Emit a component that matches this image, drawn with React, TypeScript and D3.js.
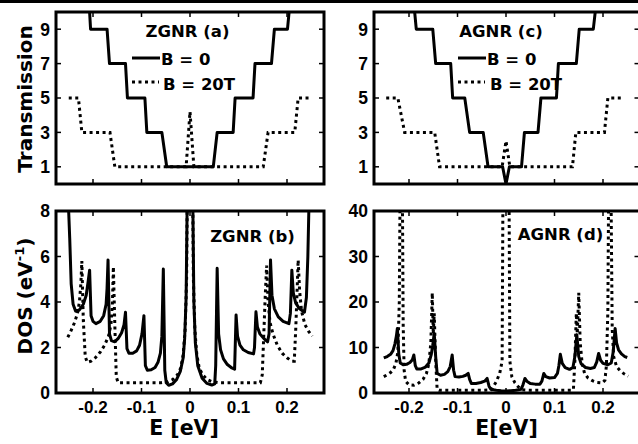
import React, { useEffect, useRef } from "react";
import * as d3 from "d3";

type Pt = [number, number];

// transmission, ZGNR (a)
const transZgnrB0: Pt[] = [
  [-0.208, 10.5], [-0.205, 9], [-0.171, 9], [-0.166, 7], [-0.133, 7], [-0.129, 5],
  [-0.093, 5], [-0.089, 3], [-0.058, 3], [-0.048, 1], [0.048, 1], [0.056, 3],
  [0.089, 3], [0.093, 5], [0.13, 5], [0.134, 7], [0.168, 7], [0.174, 9],
  [0.201, 9], [0.206, 10.5],
];
const transZgnrB20: Pt[] = [
  [-0.25, 5], [-0.23, 5], [-0.223, 3], [-0.165, 3], [-0.155, 1], [-0.008, 1],
  [0, 4.2], [0.008, 1], [0.151, 1], [0.161, 3], [0.216, 3], [0.223, 5], [0.248, 5],
];

// transmission, AGNR (c)
const transAgnrB0: Pt[] = [
  [-0.19, 10.5], [-0.185, 9], [-0.151, 9], [-0.145, 7], [-0.114, 7], [-0.11, 5],
  [-0.085, 5], [-0.075, 3], [-0.047, 3], [-0.037, 1], [-0.007, 1], [0, 0],
  [0.007, 1], [0.032, 1], [0.038, 3], [0.066, 3], [0.072, 5], [0.104, 5],
  [0.108, 7], [0.145, 7], [0.151, 9], [0.18, 9], [0.186, 10.5],
];
const transAgnrB20: Pt[] = [
  [-0.247, 5], [-0.223, 5], [-0.209, 3], [-0.147, 3], [-0.137, 1], [-0.008, 1],
  [0, 2.5], [0.008, 1], [0.137, 1], [0.144, 3], [0.203, 3], [0.21, 5], [0.241, 5],
];

// DOS, ZGNR (b)
const dosZgnrB0: Pt[] = [
  [-0.252, 9], [-0.248, 6.8], [-0.245, 4.8], [-0.241, 3.9], [-0.236, 3.6], [-0.228, 3.65],
  [-0.22, 3.9], [-0.214, 4.3], [-0.21, 4.9], [-0.207, 5.4], [-0.204, 3.4], [-0.2, 3.15],
  [-0.194, 3.05], [-0.185, 3.15], [-0.178, 3.4], [-0.173, 3.9], [-0.171, 4.6], [-0.169, 5.85],
  [-0.166, 2.6], [-0.162, 2.3], [-0.155, 2.25], [-0.148, 2.4], [-0.141, 2.65], [-0.136, 3.0],
  [-0.133, 3.55], [-0.13, 1.95], [-0.126, 1.75], [-0.118, 1.75], [-0.11, 1.85], [-0.104, 2.1],
  [-0.099, 2.6], [-0.095, 3.4], [-0.092, 1.2], [-0.088, 1.0], [-0.08, 1.02], [-0.072, 1.12],
  [-0.066, 1.35], [-0.061, 1.75], [-0.058, 2.5], [-0.055, 5.45], [-0.052, 1.0], [-0.049, 0.45],
  [-0.044, 0.34], [-0.036, 0.4], [-0.028, 0.58], [-0.02, 0.95], [-0.014, 1.55], [-0.011, 2.4],
  [-0.008, 4.2], [-0.0055, 9],
  [0.0055, 9], [0.008, 4], [0.011, 2.2], [0.016, 1.2], [0.025, 0.65], [0.035, 0.42],
  [0.045, 0.35], [0.051, 0.4], [0.053, 1.2], [0.056, 5.48], [0.059, 2.6], [0.063, 1.9],
  [0.069, 1.5], [0.077, 1.25], [0.085, 1.12], [0.092, 1.05], [0.095, 3.43], [0.098, 2.5],
  [0.103, 2.1], [0.11, 1.9], [0.12, 1.78], [0.131, 1.72], [0.133, 2.0], [0.136, 3.57],
  [0.139, 2.9], [0.144, 2.6], [0.152, 2.4], [0.16, 2.25], [0.163, 2.6], [0.166, 5.85],
  [0.169, 4.3], [0.174, 3.7], [0.182, 3.35], [0.192, 3.15], [0.204, 3.05], [0.207, 3.5],
  [0.21, 5.4], [0.213, 4.4], [0.218, 3.95], [0.226, 3.7], [0.236, 3.55], [0.24, 4.2],
  [0.243, 6], [0.246, 9],
];
const dosZgnrB20: Pt[] = [
  [-0.252, 2.45], [-0.245, 2.75], [-0.238, 3.1], [-0.232, 3.5], [-0.228, 4.0], [-0.225, 4.8],
  [-0.223, 5.8], [-0.22, 3.2], [-0.216, 1.6], [-0.212, 1.35], [-0.204, 1.4], [-0.195, 1.55],
  [-0.185, 1.8], [-0.176, 2.1], [-0.168, 2.5], [-0.163, 3.0], [-0.16, 3.9], [-0.158, 5.55],
  [-0.155, 3.0], [-0.152, 0.7], [-0.148, 0.45], [-0.12, 0.45], [-0.09, 0.45], [-0.06, 0.45],
  [-0.045, 0.5], [-0.035, 0.6], [-0.026, 0.8], [-0.019, 1.1], [-0.014, 1.7], [-0.01, 2.8],
  [-0.007, 5], [-0.0055, 9], [0.0055, 9], [0.007, 5], [0.01, 2.8], [0.014, 1.7],
  [0.019, 1.1], [0.026, 0.8], [0.035, 0.6], [0.045, 0.5], [0.06, 0.45], [0.09, 0.45],
  [0.12, 0.45], [0.145, 0.45], [0.149, 0.8], [0.152, 2.5], [0.155, 4.2], [0.158, 5.6],
  [0.161, 4.0], [0.165, 3.1], [0.171, 2.6], [0.18, 2.1], [0.19, 1.75], [0.2, 1.55],
  [0.21, 1.4], [0.215, 1.4], [0.218, 2.8], [0.221, 4.6], [0.223, 5.85], [0.226, 4.5],
  [0.23, 3.6], [0.237, 3.0], [0.245, 2.7], [0.252, 2.5],
];

// DOS, AGNR (d)
const dosAgnrB0: Pt[] = [
  [-0.252, 7.7], [-0.245, 8.0], [-0.238, 8.5], [-0.233, 9.3], [-0.229, 10.8], [-0.226, 12.5],
  [-0.224, 14.2], [-0.221, 8.5], [-0.218, 6.6], [-0.212, 6.2], [-0.205, 6.3], [-0.198, 6.7],
  [-0.193, 7.3], [-0.19, 8.35], [-0.187, 6], [-0.184, 5.3], [-0.175, 5.3], [-0.166, 5.7],
  [-0.159, 6.6], [-0.154, 8.5], [-0.151, 10.5], [-0.148, 13.1], [-0.145, 8], [-0.142, 4.3],
  [-0.135, 3.9], [-0.127, 4.1], [-0.12, 4.7], [-0.115, 5.8], [-0.111, 8.35], [-0.108, 5],
  [-0.105, 3.6], [-0.097, 3.5], [-0.089, 3.65], [-0.083, 3.9], [-0.078, 4.3], [-0.075, 3.0],
  [-0.0715, 2.1], [-0.062, 2.1], [-0.052, 2.3], [-0.044, 2.6], [-0.039, 3.2], [-0.035, 1.5],
  [-0.031, 0.8], [-0.02, 0.6], [-0.01, 0.5], [0, 0.45], [0.01, 0.5], [0.02, 0.6],
  [0.031, 0.8], [0.035, 1.8], [0.039, 3.2], [0.043, 2.6], [0.05, 2.1], [0.06, 1.95],
  [0.07, 1.95], [0.074, 2.6], [0.078, 4.3], [0.082, 3.6], [0.09, 3.3], [0.1, 3.4],
  [0.106, 4.3], [0.109, 6], [0.112, 8.5], [0.116, 6.5], [0.122, 5.6], [0.131, 5.2],
  [0.138, 5.6], [0.142, 8], [0.146, 12.8], [0.15, 8], [0.155, 6.4], [0.164, 5.6],
  [0.174, 5.4], [0.182, 5.6], [0.187, 6.8], [0.191, 8.7], [0.195, 7.2], [0.2, 6.5],
  [0.21, 6.2], [0.217, 6.6], [0.221, 9], [0.225, 14.2], [0.228, 11], [0.232, 9.5],
  [0.238, 8.6], [0.245, 8.0], [0.25, 7.8],
];
const dosAgnrB20: Pt[] = [
  [-0.252, 3.6], [-0.245, 4.0], [-0.238, 4.5], [-0.232, 5.2], [-0.227, 6.5], [-0.223, 9],
  [-0.22, 20], [-0.218, 50], [-0.214, 50], [-0.212, 15], [-0.21, 5], [-0.207, 2.6],
  [-0.2, 1.8], [-0.19, 1.7], [-0.18, 2.2], [-0.171, 3.0], [-0.164, 4.3], [-0.159, 6.5],
  [-0.155, 11], [-0.152, 22], [-0.15, 13], [-0.148, 17.5], [-0.145, 7], [-0.142, 0.8],
  [-0.138, 0.6], [-0.1, 0.6], [-0.05, 0.6], [-0.03, 0.7], [-0.02, 2.5], [-0.013, 4.3],
  [-0.008, 7], [-0.006, 50], [0.006, 50], [0.008, 7], [0.012, 3.6], [0.018, 2.3],
  [0.025, 1.4], [0.033, 0.7], [0.05, 0.6], [0.1, 0.6], [0.136, 0.6], [0.139, 0.8],
  [0.142, 7], [0.145, 17.5], [0.147, 13], [0.15, 22], [0.153, 11], [0.157, 6.5],
  [0.162, 4.3], [0.169, 3.3], [0.178, 2.7], [0.188, 2.3], [0.198, 2.2], [0.204, 2.8],
  [0.207, 6], [0.21, 18], [0.212, 50], [0.216, 50], [0.219, 14], [0.222, 8],
  [0.228, 5.8], [0.236, 4.8], [0.245, 4.1], [0.252, 3.7],
];

const xTicks = [-0.2, -0.1, 0, 0.1, 0.2];
const xTickLabels = ["-0.2", "-0.1", "0", "0.1", "0.2"];
const transTicks = [1, 3, 5, 7, 9];
const dosZgnrTicks = [0, 2, 4, 6, 8];
const dosAgnrTicks = [0, 10, 20, 30, 40];

const W = 638;
const H = 444;
const tickFont = "'Liberation Sans', Arial, Helvetica, sans-serif";
const titleFont = "'DejaVu Sans', Verdana, sans-serif";

const App = () => {
  const ref = useRef<SVGSVGElement>(null);

  useEffect(() => {
    if (!ref.current) return;
    const svg = d3.select(ref.current);
    svg.selectAll("*").remove();

    // rule along the top of the page
    svg.append("line").attr("x1", 0).attr("x2", W).attr("y1", 1.5).attr("y2", 1.5)
      .attr("stroke", "#000").attr("stroke-width", 3);

    const panels = [
      { id: "a", l: 56, r: 324, t: 12, b: 184, zero: 190, yDom: [0, 10], yTicks: transTicks,
        solid: transZgnrB0, dotted: transZgnrB20, xLab: false },
      { id: "c", l: 374, r: 639.5, t: 12, b: 184, zero: 506, yDom: [0, 10], yTicks: transTicks,
        solid: transAgnrB0, dotted: transAgnrB20, xLab: false },
      { id: "b", l: 56, r: 324, t: 211, b: 393, zero: 190, yDom: [0, 8], yTicks: dosZgnrTicks,
        solid: dosZgnrB0, dotted: dosZgnrB20, xLab: true },
      { id: "d", l: 374, r: 639.5, t: 211, b: 393, zero: 506, yDom: [0, 40], yTicks: dosAgnrTicks,
        solid: dosAgnrB0, dotted: dosAgnrB20, xLab: true },
    ];
    const pxPerEv = 485;

    panels.forEach((p) => {
      const x = d3.scaleLinear()
        .domain([(p.l - p.zero) / pxPerEv, (p.r - p.zero) / pxPerEv])
        .range([p.l, p.r]);
      const y = d3.scaleLinear().domain(p.yDom).range([p.b, p.t]);

      const clipId = "clip-" + p.id;
      svg.append("clipPath").attr("id", clipId)
        .append("rect").attr("x", p.l).attr("y", p.t)
        .attr("width", p.r - p.l).attr("height", p.b - p.t);

      const line = d3.line<Pt>().x((d) => x(d[0])).y((d) => y(d[1]));
      const g = svg.append("g").attr("clip-path", `url(#${clipId})`);
      g.append("path").attr("d", line(p.solid)).attr("fill", "none")
        .attr("stroke", "#000").attr("stroke-width", 3).attr("stroke-linejoin", "round");
      g.append("path").attr("d", line(p.dotted)).attr("fill", "none")
        .attr("stroke", "#000").attr("stroke-width", 3).attr("stroke-dasharray", "3,3.5");

      // ticks inside, on all four sides
      const ticks = svg.append("g").attr("stroke", "#000").attr("stroke-width", 1.5);
      xTicks.forEach((v) => {
        ticks.append("line").attr("x1", x(v)).attr("x2", x(v)).attr("y1", p.b).attr("y2", p.b - 5);
        ticks.append("line").attr("x1", x(v)).attr("x2", x(v)).attr("y1", p.t).attr("y2", p.t + 5);
      });
      p.yTicks.forEach((v) => {
        ticks.append("line").attr("x1", p.l).attr("x2", p.l + 5).attr("y1", y(v)).attr("y2", y(v));
        ticks.append("line").attr("x1", p.r).attr("x2", p.r - 5).attr("y1", y(v)).attr("y2", y(v));
      });

      svg.append("rect").attr("x", p.l).attr("y", p.t)
        .attr("width", p.r - p.l).attr("height", p.b - p.t)
        .attr("fill", "none").attr("stroke", "#000").attr("stroke-width", 3);

      p.yTicks.forEach((v) => {
        svg.append("text").attr("x", p.l - 6).attr("y", y(v)).attr("dy", "0.36em")
          .attr("text-anchor", "end").attr("font-family", tickFont).attr("font-weight", "bold")
          .attr("font-size", 17.5).text(String(v));
      });
      if (p.xLab) {
        xTicks.forEach((v, i) => {
          svg.append("text").attr("x", x(v)).attr("y", p.b + 19.5)
            .attr("text-anchor", "middle").attr("font-family", tickFont).attr("font-weight", "bold")
            .attr("font-size", 17).text(xTickLabels[i]);
        });
      }
    });

    const label = (txt: string, xx: number, yy: number, size: number, anchor = "start") =>
      svg.append("text").attr("x", xx).attr("y", yy).attr("text-anchor", anchor)
        .attr("font-family", titleFont).attr("font-weight", "bold").attr("font-size", size).text(txt);

    // panel titles and legends
    label("ZGNR (a)", 187.5, 37, 16.5, "middle");
    label("B = 0", 161, 65, 16.5);
    label("B = 20T", 163, 90, 16.5);
    label("AGNR (c)", 501, 37, 16.5, "middle");
    label("B = 0", 487, 65, 16.5);
    label("B = 20T", 490, 90, 16.5);
    label("ZGNR (b)", 252.5, 242, 16.5, "middle");
    label("AGNR (d)", 560.5, 240, 16.5, "middle");

    svg.append("line").attr("x1", 132).attr("x2", 160).attr("y1", 58).attr("y2", 58)
      .attr("stroke", "#000").attr("stroke-width", 3);
    svg.append("line").attr("x1", 132).attr("x2", 159).attr("y1", 82).attr("y2", 82)
      .attr("stroke", "#000").attr("stroke-width", 3).attr("stroke-dasharray", "3,3.5");
    svg.append("line").attr("x1", 458).attr("x2", 486).attr("y1", 58).attr("y2", 58)
      .attr("stroke", "#000").attr("stroke-width", 3);
    svg.append("line").attr("x1", 458).attr("x2", 485).attr("y1", 82).attr("y2", 82)
      .attr("stroke", "#000").attr("stroke-width", 3).attr("stroke-dasharray", "3,3.5");

    // axis titles
    label("E [eV]", 184, 434.5, 20.5, "middle");
    label("E[eV]", 506.5, 434.5, 20.5, "middle");
    label("Transmission", 0, 0, 20, "middle").attr("transform", "translate(32,99) rotate(-90)");
    const dos = label("DOS (eV", 0, 0, 20, "middle").attr("transform", "translate(32,296) rotate(-90)");
    dos.append("tspan").attr("font-size", 13).attr("dy", -8).text("-1");
    dos.append("tspan").attr("font-size", 20).attr("dy", 8).text(")");
  }, []);

  return (
    <div style={{ position: "absolute", left: 0, top: 0 }}>
      <svg ref={ref} width={W} height={H} style={{ display: "block", background: "#fff" }} />
    </div>
  );
};

export default App;
